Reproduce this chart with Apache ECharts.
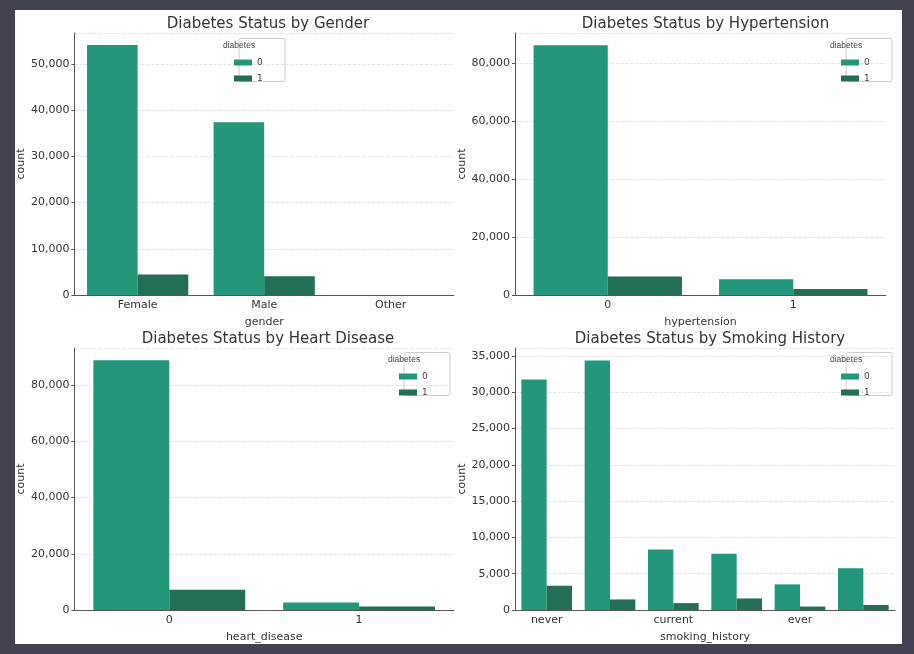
<!DOCTYPE html>
<html>
<head>
<meta charset="utf-8">
<title>diabetes</title>
<style>
body{margin:0;background:#424350;}
#main{position:absolute;left:15px;top:10px;width:887px;height:634px;background:#fff;}
</style>
</head>
<body>
<div id="main"></div>
<script src="https://cdn.jsdelivr.net/npm/echarts@6/dist/echarts.min.js"></script>
<script>
var genderCats = ['Female', 'Male', 'Other'];
var gender0 = [54091, 37391, 18];
var gender1 = [4461, 4039, 0];

var hyperCats = ['0', '1'];
var hyper0 = [86103, 5397];
var hyper1 = [6412, 2088];

var heartCats = ['0', '1'];
var heart0 = [88825, 2675];
var heart1 = [7233, 1267];

var smokeCats = ['never', 'No Info', 'current', 'former', 'ever', 'not current'];
var smoke0 = [31748, 34362, 8338, 7762, 3532, 5757];
var smoke1 = [3346, 1454, 948, 1590, 472, 690];

var panels = [
  {title: 'Diabetes Status by Gender', x: 'gender', cats: genderCats, d0: gender0, d1: gender1,
   box: {left: 57, top: 23, width: 382, height: 262}, max: 56700, interval: 10000, leg: {l: 223, t: 28}},
  {title: 'Diabetes Status by Hypertension', x: 'hypertension', cats: hyperCats, d0: hyper0, d1: hyper1,
   box: {left: 500, top: 23, width: 371, height: 262}, max: 90300, interval: 20000, leg: {l: 830, t: 28}},
  {title: 'Diabetes Status by Heart Disease', x: 'heart_disease', cats: heartCats, d0: heart0, d1: heart1,
   box: {left: 57, top: 338, width: 382, height: 262}, max: 93200, interval: 20000, leg: {l: 388, t: 342}},
  {title: 'Diabetes Status by Smoking History', x: 'smoking_history', cats: smokeCats, d0: smoke0, d1: smoke1,
   box: {left: 500, top: 338, width: 380, height: 262}, max: 36100, interval: 5000, leg: {l: 830, t: 342}}
];

var c0 = '#22977a', c1 = '#236e56';
var txt = '#333';
var option = {
  textStyle: {fontFamily: 'DejaVu Sans'},
  animation: false,
  title: [], grid: [], xAxis: [], yAxis: [], series: [], legend: [], graphic: []
};

panels.forEach(function (p, i) {
  option.title.push({
    text: p.title, left: p.box.left + p.box.width / 2, top: p.box.top - 21, textAlign: 'center',
    textStyle: {fontSize: 15, fontWeight: 'normal', color: txt}
  });
  option.grid.push({left: p.box.left, top: p.box.top, width: p.box.width, height: p.box.height});
  option.xAxis.push({
    type: 'category', gridIndex: i, data: p.cats, name: p.x, nameLocation: 'middle', nameGap: 22,
    nameTextStyle: {color: txt, fontSize: 11},
    axisLine: {lineStyle: {color: '#555'}},
    axisTick: {alignWithLabel: true, length: 3, lineStyle: {color: '#555'}},
    axisLabel: {color: txt, fontSize: 11, margin: 5}
  });
  option.yAxis.push({
    type: 'value', gridIndex: i, min: 0, max: p.max, interval: p.interval, name: 'count',
    nameLocation: 'middle', nameGap: 42, nameTextStyle: {color: txt, fontSize: 11},
    axisLine: {show: true, lineStyle: {color: '#555'}},
    axisTick: {show: true, length: 3, lineStyle: {color: '#555'}},
    axisLabel: {color: txt, fontSize: 11, margin: 5, showMaxLabel: false},
    splitLine: {lineStyle: {color: '#ddd', type: 'dashed', width: 0.8}}
  });
  option.series.push({
    name: '0', type: 'bar', xAxisIndex: i, yAxisIndex: i, data: p.d0, itemStyle: {color: c0},
    barGap: '0%', barCategoryGap: '20%'
  });
  option.series.push({
    name: '1', type: 'bar', xAxisIndex: i, yAxisIndex: i, data: p.d1, itemStyle: {color: c1},
    barGap: '0%', barCategoryGap: '20%'
  });
  option.graphic.push({
    type: 'group', left: p.leg.l - 15, top: p.leg.t, children: [
      {type: 'rect', shape: {x: 0, y: 0, width: 46, height: 43, r: 2},
       style: {fill: '#fff', stroke: '#ccc', lineWidth: 1}},
      {type: 'text', left: 'center', x: 23, y: 3, style: {text: 'diabetes', fontSize: 8.5, fill: '#444', align: 'center'}}
    ]
  });
  option.legend.push({
    data: ['0', '1'], orient: 'vertical', left: p.leg.l - 9, top: p.leg.t + 15,
    itemWidth: 18, itemHeight: 6, itemGap: 7, icon: 'rect', z: 10,
    textStyle: {fontSize: 9, color: '#444'}, selectedMode: false
  });
});

var chart = echarts.init(document.getElementById('main'));
chart.setOption(option);
</script>
</body>
</html>
